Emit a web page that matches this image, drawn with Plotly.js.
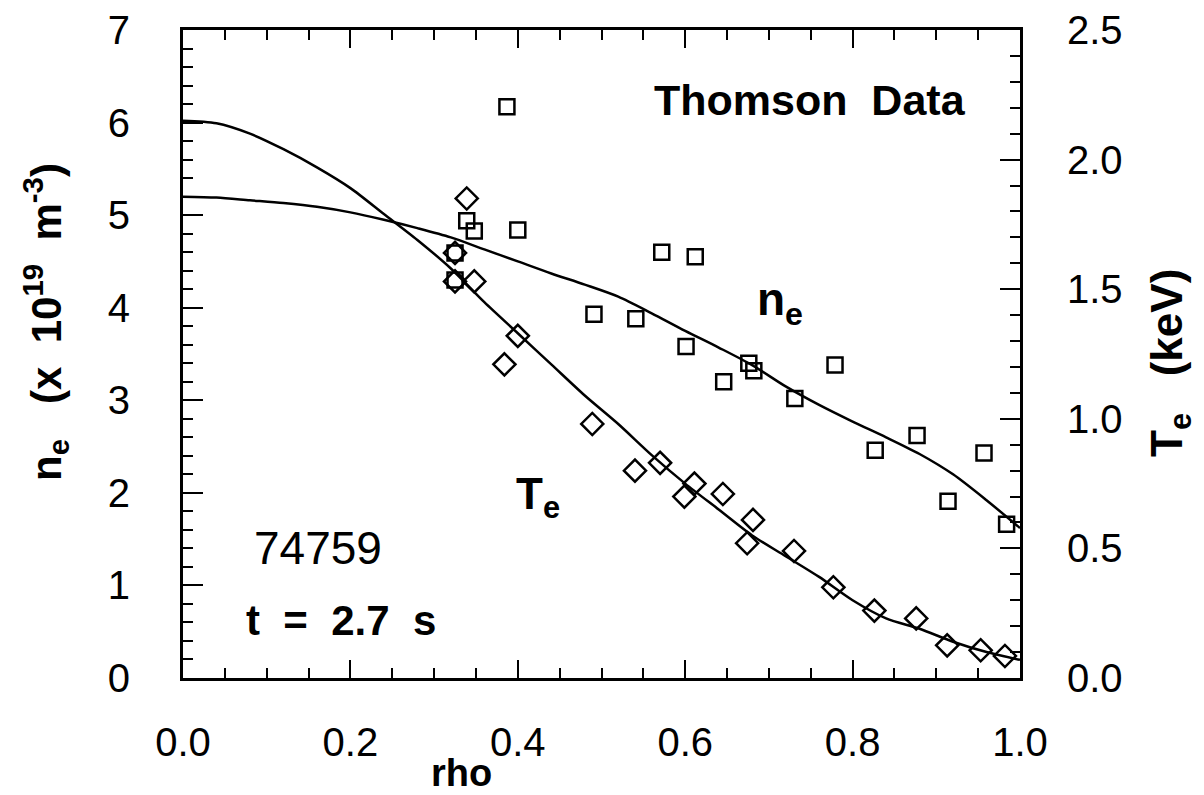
<!DOCTYPE html>
<html>
<head>
<meta charset="utf-8">
<script src="https://cdn.plot.ly/plotly-3.0.1.min.js"></script>
<style>html,body{margin:0;padding:0;background:#fff;}#chart{width:1204px;height:795px;}</style>
</head>
<body>
<div id="chart"></div>
<script>
// Thomson scattering data points
const neRho = [0.387, 0.339, 0.348, 0.400, 0.325, 0.325, 0.491, 0.541, 0.572, 0.612, 0.601, 0.646, 0.676, 0.682, 0.731, 0.779, 0.827, 0.877, 0.914, 0.957, 0.984];
const neVal = [6.17, 4.94, 4.83, 4.84, 4.59, 4.30, 3.93, 3.88, 4.60, 4.55, 3.58, 3.20, 3.40, 3.32, 3.02, 3.38, 2.46, 2.62, 1.91, 2.43, 1.66];

const teRho = [0.339, 0.325, 0.325, 0.348, 0.400, 0.384, 0.489, 0.540, 0.570, 0.611, 0.599, 0.645, 0.681, 0.674, 0.730, 0.777, 0.826, 0.876, 0.913, 0.953, 0.982];
const teVal = [1.85, 1.64, 1.53, 1.53, 1.32, 1.21, 0.98, 0.80, 0.83, 0.75, 0.70, 0.71, 0.61, 0.52, 0.49, 0.35, 0.26, 0.23, 0.126, 0.107, 0.085];

// Fitted profiles
const fitRho = [0, 0.04, 0.08, 0.12, 0.16, 0.20, 0.24, 0.28, 0.32, 0.36, 0.40, 0.44, 0.48, 0.52, 0.56, 0.60, 0.64, 0.68, 0.72, 0.76, 0.80, 0.84, 0.88, 0.92, 0.96, 1.0];
const neFit = [5.20, 5.19, 5.16, 5.13, 5.09, 5.03, 4.95, 4.86, 4.76, 4.63, 4.50, 4.37, 4.25, 4.12, 3.94, 3.75, 3.57, 3.38, 3.15, 2.95, 2.77, 2.60, 2.42, 2.20, 1.92, 1.62];
const teFit = [2.15, 2.14, 2.10, 2.04, 1.97, 1.89, 1.79, 1.69, 1.58, 1.45, 1.33, 1.21, 1.09, 0.98, 0.86, 0.75, 0.65, 0.55, 0.47, 0.39, 0.30, 0.23, 0.19, 0.14, 0.10, 0.07];

const FONT = 'Liberation Sans, Arial, Helvetica, sans-serif';
const BLK = '#000';

const traces = [
  {x: fitRho, y: neFit, yaxis: 'y', mode: 'lines', line: {color: BLK, width: 2.5, shape: 'spline', smoothing: 0.8}, hoverinfo: 'skip'},
  {x: fitRho, y: teFit, yaxis: 'y2', mode: 'lines', line: {color: BLK, width: 2.5, shape: 'spline', smoothing: 0.8}, hoverinfo: 'skip'},
  {x: neRho, y: neVal, yaxis: 'y', mode: 'markers', marker: {symbol: 'square-open', size: 15, color: BLK, line: {color: BLK, width: 2.5}}},
  {x: teRho, y: teVal, yaxis: 'y2', mode: 'markers', marker: {symbol: 'diamond-open', size: 17, color: BLK, line: {color: BLK, width: 2.5}}}
];

const axisCommon = {
  showgrid: false, zeroline: false, showline: true, linecolor: BLK, linewidth: 3,
  ticks: 'inside', tickcolor: BLK, tickwidth: 2,
  tickfont: {family: FONT, size: 40, color: BLK}
};

const layout = {
  width: 1204, height: 795,
  margin: {l: 183, r: 184, t: 30, b: 117, pad: 0},
  paper_bgcolor: '#fff', plot_bgcolor: '#fff',
  showlegend: false,
  xaxis: Object.assign({}, axisCommon, {
    range: [0, 1], dtick: 0.2, tick0: 0, tickformat: '.1f', ticklen: 18, mirror: 'ticks',
    minor: {dtick: 0.05, ticklen: 10, tickwidth: 2, tickcolor: BLK, ticks: 'inside'},
    ticklabelstandoff: 27
  }),
  yaxis: Object.assign({}, axisCommon, {
    range: [0, 7], dtick: 1, tick0: 0, ticklen: 20, mirror: false,
    minor: {dtick: 0.2, ticklen: 10, tickwidth: 2, tickcolor: BLK, ticks: 'inside'},
    ticklabelstandoff: 42
  }),
  yaxis2: Object.assign({}, axisCommon, {
    range: [0, 2.5], dtick: 0.5, tick0: 0, tickformat: '.1f', ticklen: 20,
    overlaying: 'y', side: 'right', anchor: 'x',
    minor: {dtick: 0.1, ticklen: 10, tickwidth: 2, tickcolor: BLK, ticks: 'inside'},
    ticklabelstandoff: 36
  }),
  annotations: [
    {text: '<b>Thomson  Data</b>', xref: 'paper', yref: 'paper', x: (810-183)/837, y: (678-100)/648,
     xanchor: 'center', yanchor: 'middle', showarrow: false, font: {family: FONT, size: 43, color: BLK}},
    {text: '<b>n<sub>e</sub></b>', xref: 'paper', yref: 'paper', x: (755-183)/837, y: (678-302)/648,
     xanchor: 'left', yanchor: 'middle', showarrow: false, font: {family: FONT, size: 46, color: BLK}},
    {text: '<b>T<sub>e</sub></b>', xref: 'paper', yref: 'paper', x: (514-183)/837, y: (678-497)/648,
     xanchor: 'left', yanchor: 'middle', showarrow: false, font: {family: FONT, size: 44, color: BLK}},
    {text: '74759', xref: 'paper', yref: 'paper', x: (318-183)/837, y: (678-548)/648,
     xanchor: 'center', yanchor: 'middle', showarrow: false, font: {family: FONT, size: 46, color: BLK}},
    {text: '<b>t  =  2.7  s</b>', xref: 'paper', yref: 'paper', x: (341-183)/837, y: (678-620)/648,
     xanchor: 'center', yanchor: 'middle', showarrow: false, font: {family: FONT, size: 42, color: BLK}},
    {text: '<b>rho</b>', xref: 'paper', yref: 'paper', x: (461-183)/837, y: (678-773)/648,
     xanchor: 'center', yanchor: 'middle', showarrow: false, font: {family: FONT, size: 38, color: BLK}},
    {text: '<b>n<sub>e</sub>   (x  10<sup>19</sup>  m<sup>-3</sup>)</b>', xref: 'paper', yref: 'paper', x: (45-183)/837, y: (678-322)/648,
     xanchor: 'center', yanchor: 'middle', textangle: -90, showarrow: false, font: {family: FONT, size: 42, color: BLK}},
    {text: '<b>T<sub>e</sub>   (keV)</b>', xref: 'paper', yref: 'paper', x: (1170-183)/837, y: (678-363)/648,
     xanchor: 'center', yanchor: 'middle', textangle: -90, showarrow: false, font: {family: FONT, size: 44, color: BLK}}
  ]
};

Plotly.newPlot('chart', traces, layout, {displayModeBar: false, staticPlot: true});
</script>
</body>
</html>
